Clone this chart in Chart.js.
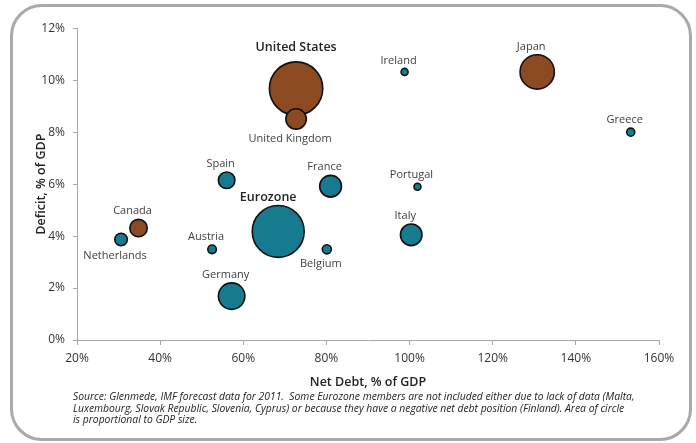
<!DOCTYPE html>
<html>
<head>
<meta charset="utf-8">
<script src="https://cdn.jsdelivr.net/npm/chart.js@4"></script>
<style>
  html, body { margin: 0; padding: 0; background: #fff; }
  body { width: 696px; height: 443px; position: relative; overflow: hidden; font-family: "Open Sans", sans-serif; }
  #frame { position: absolute; left: 10px; top: 4px; width: 676px; height: 431px; border: 3px solid #a9a9a9; border-radius: 32px; }
  #wrap { position: absolute; left: 0; top: 0; width: 696px; height: 392px; }
  #note { position: absolute; left: 73px; top: 391px; font-size: 10.35px; font-style: italic; line-height: 11.7px; color: #222; white-space: nowrap; }
</style>
</head>
<body>
<div id="frame"></div>
<div id="wrap"><canvas id="debt-chart"></canvas></div>
<div id="note">Source: Glenmede, IMF forecast data for 2011.&nbsp; Some Eurozone members are not included either due to lack of data (Malta,<br>Luxembourg, Slovak Republic, Slovenia, Cyprus) or because they have a negative net debt position (Finland). Area of circle<br>is proportional to GDP size.</div>
<script>
// values
let countries = ['United States', 'United Kingdom', 'Japan', 'Canada', 'Eurozone', 'Germany', 'France', 'Italy',
                 'Spain', 'Netherlands', 'Belgium', 'Austria', 'Greece', 'Portugal', 'Ireland'];
let netDebt = [72.7, 72.7, 130.7, 34.8, 68.4, 57.2, 81.0, 100.4, 56.0, 30.6, 80.1, 52.5, 153.2, 101.9, 98.8];   // % of GDP
let deficit = [9.68, 8.51, 10.32, 4.31, 4.18, 1.69, 5.92, 4.05, 6.15, 3.87, 3.49, 3.49, 8.0, 5.9, 10.32];      // % of GDP
let gdp = [15.0, 2.2, 6.2, 1.6, 14.2, 3.7, 2.5, 2.45, 1.45, 0.83, 0.43, 0.39, 0.34, 0.26, 0.26];              // USD trillions
let inEurozone = [false, false, false, false, true, true, true, true, true, true, true, true, true, true, true];
let xTicks = [20, 40, 60, 80, 100, 120, 140, 160];
let yTicks = [0, 2, 4, 6, 8, 10, 12];

const BROWN = '#8c4a22';
const TEAL = '#167b8f';
const AXIS = '#a6a6a6';
const FONT = '"Open Sans", sans-serif';

// circle area proportional to GDP
let radiusFor = g => 6.89 * Math.sqrt(g);

let points = countries.map((c, i) => ({ x: netDebt[i], y: deficit[i], r: radiusFor(gdp[i]) }));

// label placement tweaks (below the bubble, bold)
let below = ['United Kingdom', 'Netherlands', 'Belgium'];
let bold = ['United States', 'Eurozone'];

const bubbleLabels = {
    id: 'bubbleLabels',
    afterDatasetsDraw(chart) {
        let ctx = chart.ctx;
        let meta = chart.getDatasetMeta(0);
        ctx.save();
        ctx.textAlign = 'center';
        ctx.textBaseline = 'middle';
        meta.data.forEach((pt, i) => {
            let name = countries[i];
            let r = pt.options.radius;
            let isBold = bold.includes(name);
            ctx.font = isBold ? '600 12.5px ' + FONT : '11px ' + FONT;
            ctx.fillStyle = isBold ? '#222' : '#404040';
            let dx = name === 'United States' ? 0 : (isBold ? -10 : -6);
            let y;
            if (below.includes(name)) {
                y = pt.y + r + 10;
            } else {
                y = pt.y - r - (name === 'United States' ? 14 : 8);
            }
            ctx.fillText(name, pt.x + dx, y);
        });
        ctx.restore();
    }
};

let ctx = document.getElementById('debt-chart').getContext('2d');
new Chart(ctx, {
    type: 'bubble',
    data: {
        datasets: [{
            data: points,
            backgroundColor: inEurozone.map(e => e ? TEAL : BROWN),
            borderColor: '#111',
            borderWidth: 1.6,
            hoverBorderWidth: 1.6
        }]
    },
    options: {
        responsive: true,
        maintainAspectRatio: false,
        animation: false,
        layout: { padding: { left: 0, right: 37, top: 26, bottom: 0 } },
        plugins: { legend: { display: false }, tooltip: { enabled: false } },
        scales: {
            x: {
                type: 'linear',
                min: 20,
                max: 160,
                afterBuildTicks: s => { s.ticks = xTicks.map(v => ({ value: v })); },
                afterFit: s => { s.height = 52; },
                ticks: {
                    callback: v => v + '%',
                    color: '#333',
                    font: { family: FONT, size: 12 },
                    padding: 6
                },
                grid: { drawOnChartArea: false, drawTicks: true, tickLength: 5, color: AXIS },
                border: { display: true, color: AXIS, width: 1 },
                title: {
                    display: true,
                    text: 'Net Debt, % of GDP',
                    color: '#222',
                    font: { family: FONT, size: 12.5, weight: '600' },
                    padding: { top: 0, bottom: 2 }
                }
            },
            y: {
                type: 'linear',
                min: 0,
                max: 12,
                afterBuildTicks: s => { s.ticks = yTicks.map(v => ({ value: v })); },
                afterFit: s => { s.width = 77; },
                ticks: {
                    callback: v => v + '%',
                    color: '#333',
                    font: { family: FONT, size: 12 },
                    padding: 8
                },
                grid: { drawOnChartArea: false, drawTicks: true, tickLength: 4, color: AXIS },
                border: { display: true, color: AXIS, width: 1 },
                title: {
                    display: true,
                    text: 'Deficit, % of GDP',
                    color: '#222',
                    font: { family: FONT, size: 12.5, weight: '600' },
                    padding: { top: 34, bottom: 0 }
                }
            }
        }
    },
    plugins: [bubbleLabels]
});
</script>
</body>
</html>
